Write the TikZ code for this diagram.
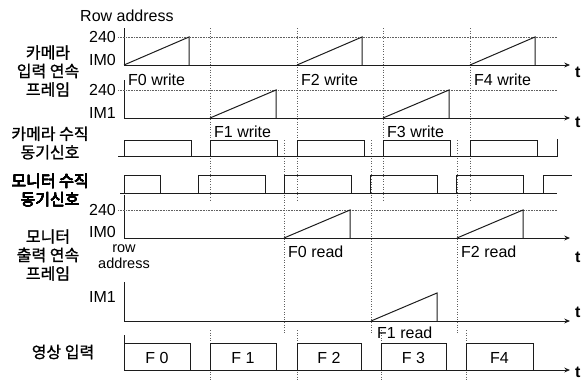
\documentclass[tikz,border=0pt]{standalone}
\usepackage{fontspec}
\setmainfont{Liberation Sans}
\newfontfamily\korfont{Noto Sans CJK KR}[FakeBold=1.2]
\usetikzlibrary{arrows.meta,positioning}
\definecolor{ink}{HTML}{1C1C1C}
\definecolor{dotgrey}{HTML}{606060}
\newcommand{\ramp}[3]{\draw[sig] (#1,#3) -- (#2,#3-28) -- (#2,#3);}
\newcommand{\pulse}[4]{\draw[sig] (#1,#3) -- (#1,#4) -- (#2,#4) -- (#2,#3);}

\begin{document}
\begin{tikzpicture}[
  x=1pt,y=-1pt,
  every node/.style={font=\fontsize{16}{18}\selectfont,inner sep=0pt},
  kor/.style={font=\korfont\fontsize{16}{18.5}\selectfont,align=center},
  sig/.style={draw=ink,line width=1pt},
  axis/.style={draw=ink,line width=1pt,-{Stealth[length=2mm,width=1.7mm]}},
  lvl/.style={draw=dotgrey,densely dotted,line width=.6pt},
  guide/.style={draw=dotgrey,dotted,line width=.6pt}
]
\useasboundingbox (0,0) rectangle (588,380);
% guides
\foreach \x in {210,297,383,470} \draw[guide] (\x,28) -- (\x,202);
\foreach \x in {210,297,381,466} \draw[guide] (\x,330) -- (\x,380);
\foreach \x in {284,371,457} \draw[guide] (\x,140) -- (\x,333);
% camera frames
\node[anchor=base west] (rowaddr) at (80,21) {Row address};
\node[kor] (kcam) at (48,71) {카메라\\입력 연속\\프레임};
\node[anchor=east] (a240) at (116,37) {240};
\node[anchor=east] (aim0) at (116,60) {IM0};
\node[anchor=east] (b240) at (116,90) {240};
\node[anchor=east] (bim1) at (116,113) {IM1};
\coordinate (o1) at (124,65); \coordinate (e1) at (570,65);
\coordinate (o2) at (124,118); \coordinate (e2) at (570,118);
\draw[sig] (124,28) -- (o1);
\draw[sig] (124,80) -- (o2);
\draw[lvl] (118,37) -- (557,37);
\draw[lvl] (118,90) -- (557,90);
\draw[axis] (o1) -- (e1);
\draw[axis] (o2) -- (e2);
\node[anchor=base west] (t1) at (575,77) {\textbf{t}};
\node[anchor=base west] (t2) at (575,127) {\textbf{t}};
\foreach \s/\f in {124/0,297/2,470/4} {
  \ramp{\s}{\s+65}{65}
  \node[anchor=base west] (w\f) at (\s+4,85) {F\f\ write};
}
\foreach \s/\f in {210/1,383/3} {
  \ramp{\s}{\s+66}{118}
  \node[anchor=base west] (w\f) at (\s+4,137) {F\f\ write};
}
% camera vertical sync
\node[kor] (kcsync) at (50,143) {카메라 수직\\동기신호};
\draw[sig] (118,156) -- (557,156) -- (557,139);
\foreach \s in {124,210,297,383,470} \pulse{\s}{\s+67}{156}{140}
% monitor vertical sync
\node[kor] (kmsync) at (50,190) {모니터 수직\\동기신호};
\draw[sig] (120,193) -- (557,193);
\pulse{124}{160}{193}{175}
\foreach \s in {198,284,370,456} \pulse{\s}{\s+67}{193}{175}
\draw[sig] (543,193) -- (543,175) -- (572,175);
% monitor output frames
\node[kor] (kmon) at (48,255) {모니터\\출력 연속\\프레임};
\node[anchor=east] (c240) at (116,210) {240};
\node[anchor=east] (cim0) at (116,232) {IM0};
\node[align=center,font=\fontsize{14.5}{16}\selectfont] (rowlbl) at (124,257) {row\\address};
\node[anchor=east] (dim1) at (116,297) {IM1};
\coordinate (o3) at (124,238); \coordinate (e3) at (570,238);
\coordinate (o4) at (124,321); \coordinate (e4) at (570,321);
\draw[sig] (124,195) -- (o3);
\draw[sig] (124,282) -- (o4);
\draw[lvl] (118,210) -- (557,210);
\draw[axis] (o3) -- (e3);
\draw[axis] (o4) -- (e4);
\node[anchor=base west] (t3) at (575,262) {\textbf{t}};
\node[anchor=base west] (t4) at (575,317) {\textbf{t}};
\foreach \s/\f in {284/0,457/2} {
  \ramp{\s}{\s+66}{238}
  \node[anchor=base west] (r\f) at (\s+4,257) {F\f\ read};
}
\ramp{371}{437}{321}
\node[anchor=base west] (r1) at (377,338) {F1 read};
% video input
\node[kor] (kvid) at (63,352) {영상 입력};
\coordinate (o5) at (124,370); \coordinate (e5) at (570,370);
\draw[sig] (124,335) -- (o5);
\draw[axis] (o5) -- (e5);
\node[anchor=base west] (t5) at (575,377) {\textbf{t}};
\foreach \s/\e/\f [count=\i] in {124/190/F 0,210/276/F 1,297/361/F 2,381/446/F 3,466/533/F4} {
  \pulse{\s}{\e}{370}{343}
  \node (v\i) at ({(\s+\e)/2},358) {\f};
}
\end{tikzpicture}
\end{document}
